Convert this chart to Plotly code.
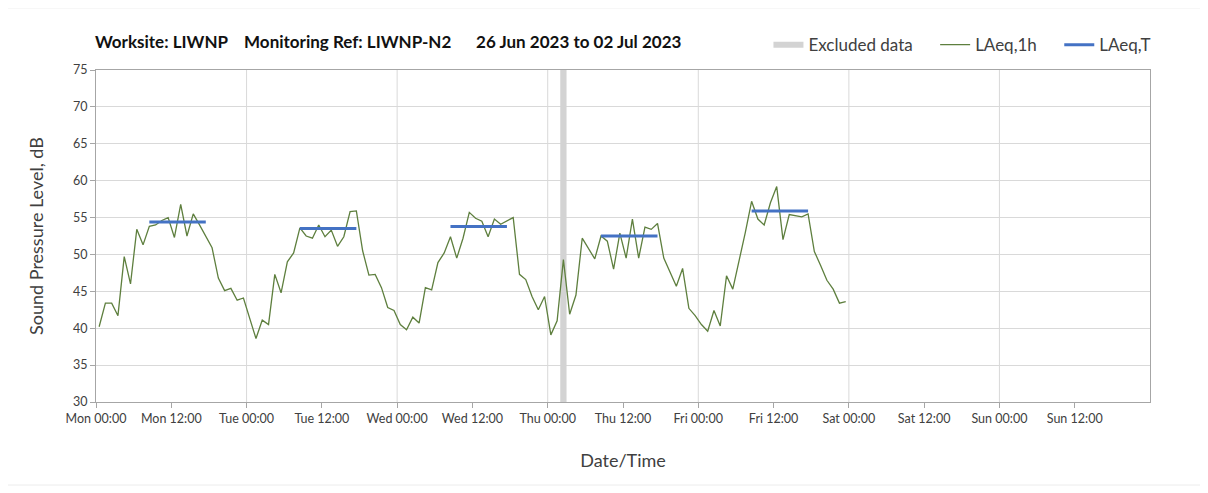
import pandas as pd
import plotly.graph_objects as go

# hourly LAeq,1h values, Mon 26 Jun 2023 00:00 onwards
LAEQ_1H = [
    40.2, 43.4, 43.4, 41.7, 49.7, 46.0, 53.4, 51.3, 53.8, 54.0, 54.6, 55.0,
    52.3, 56.8, 52.5, 55.5, 54.0, 52.5, 50.9, 46.8, 45.1, 45.4, 43.8, 44.1,
    41.4, 38.6, 41.1, 40.5, 47.3, 44.8, 49.0, 50.2, 53.6, 52.5, 52.2, 54.0,
    52.4, 53.3, 51.1, 52.4, 55.8, 55.9, 50.5, 47.2, 47.3, 45.5, 42.8, 42.4,
    40.5, 39.8, 41.5, 40.7, 45.5, 45.2, 48.9, 50.2, 52.4, 49.5, 52.2, 55.7,
    54.9, 54.5, 52.4, 54.8, 54.1, 54.5, 55.0, 47.3, 46.6, 44.3, 42.5, 44.3,
    39.1, 41.0, 49.3, 41.9, 44.5, 52.2, 50.8, 49.4, 52.5, 51.8, 48.0, 52.9,
    49.5, 54.8, 49.5, 53.7, 53.4, 54.2, 49.5, 47.6, 45.7, 48.1, 42.7, 41.7,
    40.5, 39.6, 42.4, 40.3, 47.1, 45.3, 49.1, 53.0, 57.2, 54.8, 54.0, 57.0,
    59.2, 52.0, 55.4, 55.3, 55.1, 55.5, 50.4, 48.5, 46.5, 45.3, 43.4, 43.6,
]
START = "2023-06-26 00:30"

# daytime LAeq,T per weekday
T_DAYS = ["2023-06-26", "2023-06-27", "2023-06-28", "2023-06-29", "2023-06-30"]
T_START = "08:30"
T_END = "17:30"
LAEQ_T = [54.4, 53.5, 53.8, 52.5, 55.9]

# excluded period
EXCL_START = "2023-06-29 02:00"
EXCL_END = "2023-06-29 03:00"

X_RANGE = ["2023-06-26 00:00", "2023-07-03 00:00"]
Y_RANGE = [30, 75]

TITLE = ("Worksite: LIWNP&nbsp;&nbsp;&nbsp;&nbsp;Monitoring Ref: LIWNP-N2"
         "&nbsp;&nbsp;&nbsp;&nbsp;&nbsp;&nbsp;26 Jun 2023 to 02 Jul 2023")
PAD = "&nbsp;" * 4

FONT = "Lato"
GREY = "#d9d9d9"
AXIS = "#a6a6a6"
TEXT = "#404040"

times = pd.date_range(START, periods=len(LAEQ_1H), freq="h")

fig = go.Figure()

# excluded data band
fig.add_trace(go.Scatter(
    x=[EXCL_START, EXCL_START, EXCL_END, EXCL_END],
    y=[Y_RANGE[0], Y_RANGE[1], Y_RANGE[1], Y_RANGE[0]],
    fill="toself", fillcolor="#d3d3d3", mode="none",
    name="Excluded data" + PAD, hoverinfo="skip",
))

fig.add_trace(go.Scatter(
    x=times, y=LAEQ_1H, mode="lines", name="LAeq,1h" + PAD,
    line=dict(color="#5e7f3e", width=1.3),
))

# LAeq,T segments, one trace with gaps between days
tx, ty = [], []
for day, val in zip(T_DAYS, LAEQ_T):
    tx += [f"{day} {T_START}", f"{day} {T_END}", None]
    ty += [val, val, None]
fig.add_trace(go.Scatter(
    x=tx, y=ty, mode="lines", name="LAeq,T",
    line=dict(color="#4472c4", width=3),
))

# tick every 12 h, no label on the closing Monday
tick_vals = pd.date_range(X_RANGE[0], X_RANGE[1], freq="12h")[:-1]

# vertical grid lines only at midnight
shapes = []
for d in pd.date_range(X_RANGE[0], X_RANGE[1], freq="D")[1:-1]:
    shapes.append(dict(type="line", xref="x", yref="paper", x0=d, x1=d, y0=0, y1=1,
                       line=dict(color=GREY, width=1), layer="below"))
# light frame round the chart
shapes.append(dict(type="rect", xref="paper", yref="paper",
                   x0=-0.087, x1=1.052, y0=-0.25, y1=1.187,
                   line=dict(color="#ececec", width=1), layer="below"))

fig.update_layout(
    width=1208, height=493,
    margin=dict(l=88, r=66, t=62, b=99, autoexpand=False),
    paper_bgcolor="white", plot_bgcolor="white",
    font=dict(family=FONT, color=TEXT),
    showlegend=True,
    legend=dict(
        orientation="h", x=0.638, y=1.075, xanchor="left", yanchor="middle",
        font=dict(size=17, color=TEXT), bgcolor="rgba(0,0,0,0)",
    ),
    annotations=[dict(
        text="<b>" + TITLE + "</b>", xref="paper", yref="paper",
        x=-0.003, y=1.087, xanchor="left", yanchor="middle", showarrow=False,
        font=dict(family=FONT, size=17, color="#111111"),
    )],
    xaxis=dict(
        range=X_RANGE, type="date", tickvals=tick_vals,
        tickformat="%a %H:%M", ticks="outside", ticklen=5, tickcolor=AXIS,
        showgrid=False, zeroline=False,
        showline=True, linecolor=AXIS, mirror=True,
        tickfont=dict(size=12.5, color=TEXT),
        title=dict(text="Date/Time", font=dict(size=18, color=TEXT), standoff=29),
    ),
    yaxis=dict(
        range=Y_RANGE, dtick=5, showgrid=True, gridcolor=GREY, gridwidth=1,
        ticks="outside", ticklen=5, tickcolor=AXIS,
        showline=True, linecolor=AXIS, mirror=True, zeroline=False,
        tickfont=dict(size=12.5, color=TEXT),
        title=dict(text="Sound Pressure Level, dB", font=dict(size=18, color=TEXT),
                   standoff=24),
    ),
    shapes=shapes,
)

fig.write_html("out.html")
